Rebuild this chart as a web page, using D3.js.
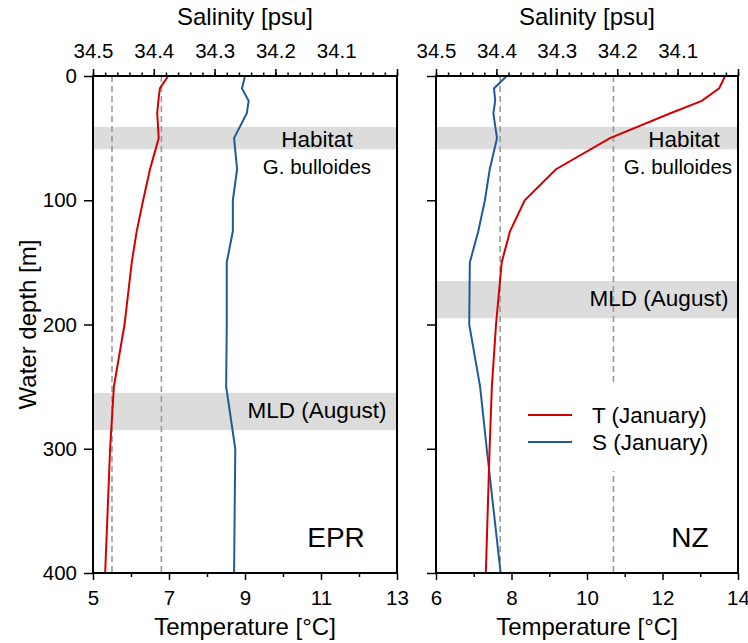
<!DOCTYPE html>
<html>
<head>
<meta charset="utf-8">
<script src="https://cdn.jsdelivr.net/npm/d3@7"></script>
<style>
  html, body { margin: 0; padding: 0; background: #fff; }
  svg { display: block; font-family: "Liberation Sans", Arial, Helvetica, sans-serif; }
</style>
</head>
<body>
<svg id="chart" width="748" height="643"></svg>
<script>
// Standard depth levels (m)
const depths = [0, 10, 20, 30, 50, 75, 100, 125, 150, 200, 250, 300, 400];

// East Pacific Rise (EPR) profiles, January
const eprTemp = [6.98, 6.76, 6.72, 6.69, 6.73, 6.50, 6.32, 6.15, 6.02, 5.83, 5.55, 5.45, 5.32];
const eprSal  = [34.250, 34.255, 34.244, 34.247, 34.268, 34.263, 34.270, 34.270, 34.280, 34.280, 34.281, 34.266, 34.268];

// New Zealand (NZ) profiles, January
const nzTemp = [13.66, 13.50, 13.04, 12.21, 10.61, 9.18, 8.35, 7.96, 7.74, 7.59, 7.48, 7.42, 7.32];
const nzSal  = [34.383, 34.404, 34.402, 34.405, 34.399, 34.411, 34.419, 34.430, 34.444, 34.445, 34.427, 34.416, 34.393];

// Reference temperatures (dashed verticals)
const eprRefTemps = [5.5, 6.8];
const nzRefTemps  = [7.7, 10.7];

// Shaded depth bands [top, bottom] in m
const eprHabitat = [41, 59];
const eprMLD     = [255, 285];
const nzHabitat  = [41, 59];
const nzMLD      = [165, 195];

// Axis ticks
const depthTicks   = [0, 100, 200, 300, 400];
const salMajor     = [34.5, 34.4, 34.3, 34.2, 34.1];
const eprTempMajor = [5, 7, 9, 11, 13];
const eprTempMinor = [6, 8, 10, 12];
const nzTempMajor  = [6, 8, 10, 12, 14];
const nzTempMinor  = [7, 9, 11, 13];
const salMinor = d3.range(0, 26).map(i => +(34.5 - i * 0.02).toFixed(2));

const legendItems = ["T (January)", "S (January)"];

const RED = "#d40000", BLUE = "#1f5b9c", DASH = "#9a9a9a", BAND = "#dcdcdc";

const svg = d3.select("#chart");
const plotTop = 76, plotBottom = 573;
const y = d3.scaleLinear().domain([0, 400]).range([plotTop, plotBottom]);

function panel(cfg) {
  const g = svg.append("g");
  const x0 = cfg.x0, x1 = cfg.x1;
  const xT = d3.scaleLinear().domain(cfg.tDomain).range([x0, x1]);
  const xS = d3.scaleLinear().domain([34.5, 34.0]).range([x0, x1]);

  // depth bands
  [cfg.habitat, cfg.mld].forEach(b => {
    g.append("rect")
      .attr("x", x0).attr("width", x1 - x0)
      .attr("y", y(b[0])).attr("height", y(b[1]) - y(b[0]))
      .attr("fill", BAND);
  });

  // dashed reference temperatures
  g.selectAll("line.ref").data(cfg.refs).enter().append("line")
    .attr("class", "ref")
    .attr("x1", d => xT(d)).attr("x2", d => xT(d))
    .attr("y1", plotTop).attr("y2", plotBottom)
    .attr("stroke", DASH).attr("stroke-width", 1.6)
    .attr("stroke-dasharray", "6,4");

  if (cfg.legend) cfg.legend(g);

  // profiles
  const tLine = d3.line().x(d => xT(d[0])).y(d => y(d[1]));
  const sLine = d3.line().x(d => xS(d[0])).y(d => y(d[1]));
  g.append("path").datum(d3.zip(cfg.sal, depths)).attr("d", sLine)
    .attr("fill", "none").attr("stroke", BLUE).attr("stroke-width", 2);
  g.append("path").datum(d3.zip(cfg.temp, depths)).attr("d", tLine)
    .attr("fill", "none").attr("stroke", RED).attr("stroke-width", 2);

  // band labels
  g.append("text").attr("x", cfg.habX).attr("y", 147).attr("text-anchor", "middle")
    .attr("font-size", 22.5).text("Habitat");
  g.append("text").attr("x", cfg.bullX).attr("y", 174).attr("text-anchor", "middle")
    .attr("font-size", 20.5).text("G. bulloides");
  g.append("text").attr("x", cfg.mldX).attr("y", cfg.mldY).attr("text-anchor", "middle")
    .attr("font-size", 22.5).text("MLD (August)");
  g.append("text").attr("x", cfg.siteX).attr("y", 547).attr("text-anchor", "middle")
    .attr("font-size", 28).text(cfg.site);

  // axes
  const styleAxis = sel => {
    sel.select(".domain").remove();
    sel.selectAll(".tick line").attr("stroke", "#000").attr("stroke-width", 1.5);
    sel.selectAll(".tick text").attr("fill", "#000").attr("font-size", 20.5)
      .attr("font-family", '"Liberation Sans", Arial, sans-serif');
  };
  g.append("g").attr("transform", `translate(0,${plotTop})`)
    .call(d3.axisTop(xS).tickValues(salMinor).tickSize(3.5).tickFormat(""))
    .call(styleAxis);
  g.append("g").attr("transform", `translate(0,${plotTop})`)
    .call(d3.axisTop(xS).tickValues([...salMajor, 34.0]).tickSize(7).tickPadding(11)
      .tickFormat(d => salMajor.includes(d) ? d3.format(".1f")(d) : ""))
    .call(styleAxis);
  g.append("g").attr("transform", `translate(0,${plotBottom})`)
    .call(d3.axisBottom(xT).tickValues(cfg.tMinor).tickSize(4).tickFormat(""))
    .call(styleAxis);
  g.append("g").attr("transform", `translate(0,${plotBottom})`)
    .call(d3.axisBottom(xT).tickValues(cfg.tMajor).tickSize(7).tickPadding(10.5)
      .tickFormat(d3.format("d")))
    .call(styleAxis);
  g.append("g").attr("transform", `translate(${x0},0)`)
    .call(d3.axisLeft(y).tickValues(depthTicks).tickSize(9).tickPadding(7)
      .tickFormat(cfg.depthLabels ? d3.format("d") : ""))
    .call(styleAxis);

  // frame
  g.append("rect").attr("x", x0).attr("y", plotTop)
    .attr("width", x1 - x0).attr("height", plotBottom - plotTop)
    .attr("fill", "none").attr("stroke", "#000").attr("stroke-width", 2);

  // titles
  svg.append("text").attr("x", (x0 + x1) / 2).attr("y", 25).attr("text-anchor", "middle")
    .attr("font-size", 24).text("Salinity [psu]");
  svg.append("text").attr("x", (x0 + x1) / 2).attr("y", 635).attr("text-anchor", "middle")
    .attr("font-size", 24).text("Temperature [°C]");
}

panel({
  x0: 93, x1: 397, tDomain: [5, 13],
  temp: eprTemp, sal: eprSal, refs: eprRefTemps,
  habitat: eprHabitat, mld: eprMLD,
  tMajor: eprTempMajor, tMinor: eprTempMinor,
  habX: 317, bullX: 317, mldX: 317, mldY: 418,
  site: "EPR", siteX: 336, depthLabels: true
});

panel({
  x0: 436, x1: 738, tDomain: [6, 14],
  temp: nzTemp, sal: nzSal, refs: nzRefTemps,
  habitat: nzHabitat, mld: nzMLD,
  tMajor: nzTempMajor, tMinor: nzTempMinor,
  habX: 684, bullX: 678, mldX: 659, mldY: 306,
  site: "NZ", siteX: 690, depthLabels: false,
  legend: g => {
    g.append("rect").attr("x", 518).attr("y", 386).attr("width", 207).attr("height", 85)
      .attr("fill", "#fff");
    const colors = [RED, BLUE];
    legendItems.forEach((t, i) => {
      const ly = 415 + i * 27;
      g.append("line").attr("x1", 528).attr("x2", 572).attr("y1", ly).attr("y2", ly)
        .attr("stroke", colors[i]).attr("stroke-width", 2);
      g.append("text").attr("x", 592).attr("y", ly + 8).attr("font-size", 22.5).text(t);
    });
  }
});

// y-axis title
svg.append("text")
  .attr("transform", "translate(36,324.5) rotate(-90)")
  .attr("text-anchor", "middle").attr("font-size", 24)
  .text("Water depth [m]");
</script>
</body>
</html>
